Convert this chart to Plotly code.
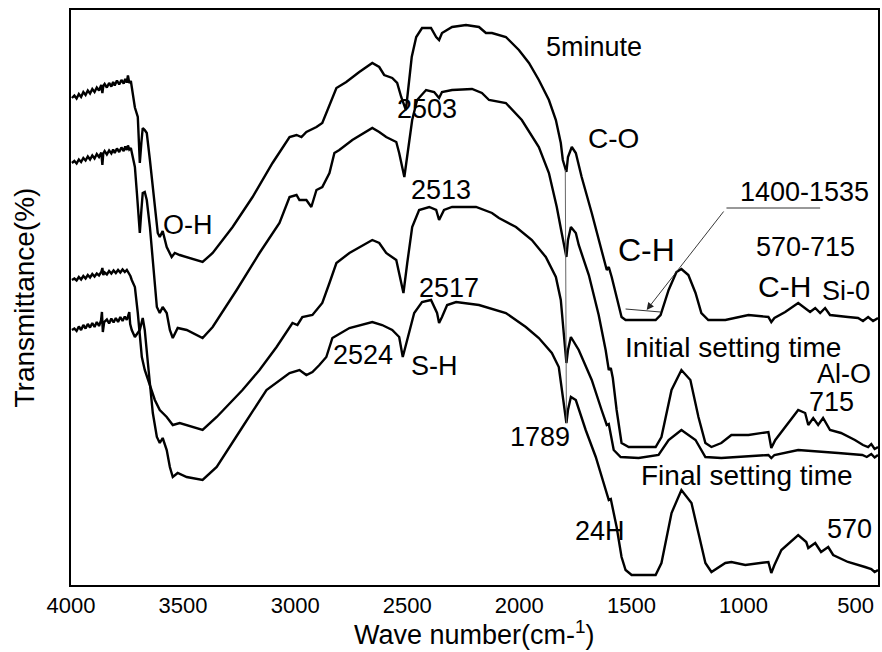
import plotly.graph_objects as go

# ---------------- data (wavenumber cm-1, transmittance a.u.) ----------------
five_minute = [
    (3996, 97.4), (3985, 97.9), (3975, 97.3), (3965, 98.2), (3955, 97.6), (3945, 98.6), (3935, 98.0),
    (3925, 98.9), (3915, 98.3), (3905, 99.2), (3895, 98.6), (3885, 99.5), (3875, 98.9), (3865, 100.0),
    (3860, 98.4), (3856, 99.8), (3850, 100.2), (3840, 99.5), (3830, 100.4), (3820, 99.7), (3812, 100.6),
    (3805, 99.9), (3795, 100.9), (3785, 100.1), (3775, 101.0), (3765, 100.3), (3758, 101.2), (3751, 100.5),
    (3746, 101.9), (3740, 100.4), (3733, 100.8), (3729, 99.4), (3724, 97.6), (3715, 95.5), (3702, 93.6),
    (3693, 84.4), (3686, 88.5), (3680, 91.4), (3671, 91.0), (3662, 90.4), (3648, 85.0), (3626, 75.6),
    (3613, 70.4), (3604, 69.6), (3591, 70.8), (3573, 67.6), (3551, 65.6), (3537, 66.4), (3515, 66.0),
    (3413, 64.6), (3368, 66.4), (3279, 71.6), (3190, 77.6), (3101, 84.4), (3025, 89.6), (2994, 90.0),
    (2972, 89.6), (2950, 90.6), (2905, 91.6), (2879, 92.4), (2861, 94.4), (2847, 95.6), (2816, 99.4),
    (2772, 100.6), (2714, 102.6), (2656, 104.4), (2625, 103.6), (2603, 102.0), (2567, 101.4), (2545, 100.4),
    (2527, 97.6), (2506, 95.0), (2495, 99.6), (2480, 105.6), (2460, 109.6), (2434, 111.4), (2394, 111.4),
    (2371, 109.6), (2358, 109.0), (2345, 110.4), (2300, 111.6), (2238, 112.0), (2180, 111.6), (2149, 110.4),
    (2122, 110.4), (2060, 109.6), (2002, 107.0), (1957, 104.4), (1913, 101.0), (1868, 97.0), (1837, 93.0),
    (1815, 88.4), (1806, 85.0), (1790, 82.6), (1783, 85.6), (1766, 87.6), (1748, 86.4), (1722, 81.6),
    (1677, 74.4), (1633, 67.0), (1610, 63.0), (1601, 63.6), (1588, 61.6), (1566, 57.6), (1544, 53.6),
    (1526, 53.0), (1392, 53.0), (1370, 54.0), (1334, 59.0), (1299, 62.6), (1277, 63.2), (1246, 62.0),
    (1214, 58.4), (1188, 54.4), (1157, 53.0), (1081, 53.0), (978, 54.0), (889, 53.6), (876, 52.6),
    (862, 53.4), (814, 54.6), (756, 56.4), (725, 55.4), (703, 54.6), (680, 55.4), (658, 54.4), (636, 55.4),
    (614, 54.0), (534, 53.6), (489, 53.4), (467, 52.8), (444, 53.6), (422, 52.8), (400, 53.4),
]

initial_setting = [
    (3996, 84.4), (3985, 84.8), (3975, 84.3), (3965, 85.1), (3955, 84.6), (3945, 85.4), (3935, 84.9),
    (3925, 85.7), (3915, 85.1), (3905, 85.9), (3895, 85.3), (3885, 86.2), (3875, 85.6), (3865, 86.5),
    (3860, 84.0), (3856, 86.3), (3850, 86.8), (3840, 86.1), (3830, 86.9), (3820, 86.3), (3812, 87.1),
    (3805, 86.4), (3795, 87.3), (3785, 86.6), (3775, 87.5), (3765, 86.8), (3758, 87.7), (3751, 87.0),
    (3746, 87.9), (3740, 87.1), (3733, 87.4), (3729, 86.4), (3724, 86.0), (3715, 83.6), (3706, 78.4),
    (3693, 70.4), (3686, 75.0), (3680, 78.4), (3671, 78.6), (3662, 77.0), (3648, 71.6), (3635, 64.4),
    (3617, 55.6), (3604, 54.4), (3591, 55.6), (3573, 54.4), (3559, 51.0), (3546, 49.4), (3524, 51.4),
    (3484, 51.0), (3413, 49.4), (3368, 51.6), (3261, 59.0), (3159, 66.4), (3070, 72.4), (3025, 77.6),
    (2994, 78.0), (2981, 77.0), (2950, 77.0), (2928, 75.6), (2905, 79.0), (2879, 79.6), (2847, 82.4),
    (2825, 86.4), (2803, 87.0), (2745, 89.0), (2656, 91.4), (2625, 90.6), (2594, 89.6), (2549, 88.6),
    (2536, 86.4), (2513, 81.6), (2500, 85.6), (2478, 93.0), (2456, 97.0), (2416, 99.0), (2380, 98.6),
    (2358, 97.4), (2345, 98.6), (2300, 99.0), (2211, 99.2), (2167, 98.4), (2135, 97.0), (2060, 96.4),
    (1989, 93.0), (1913, 87.6), (1868, 82.4), (1833, 75.6), (1811, 70.4), (1790, 65.6), (1783, 69.0),
    (1770, 71.6), (1748, 70.4), (1735, 68.0), (1690, 62.0), (1646, 54.0), (1615, 47.0), (1601, 43.0),
    (1592, 43.4), (1583, 41.4), (1566, 35.0), (1544, 28.4), (1512, 27.6), (1392, 27.6), (1366, 29.6),
    (1321, 39.0), (1277, 43.0), (1237, 41.0), (1201, 33.6), (1170, 28.4), (1143, 27.6), (1099, 28.4),
    (1054, 30.0), (978, 30.0), (889, 30.6), (876, 27.4), (858, 29.0), (800, 32.4), (756, 35.0),
    (725, 34.4), (711, 32.0), (689, 33.4), (667, 32.0), (645, 33.4), (614, 31.0), (565, 30.4),
    (503, 29.0), (467, 28.0), (444, 27.6), (430, 28.2), (415, 27.2), (400, 27.6),
]

final_setting = [
    (3996, 61.0), (3985, 61.3), (3975, 60.9), (3965, 61.6), (3955, 61.1), (3945, 61.8), (3935, 61.3),
    (3925, 62.0), (3915, 61.5), (3905, 62.2), (3895, 61.7), (3885, 62.3), (3875, 61.9), (3865, 62.6),
    (3860, 63.4), (3856, 62.0), (3850, 62.5), (3840, 62.1), (3830, 62.8), (3820, 62.3), (3810, 62.9),
    (3800, 62.4), (3790, 63.0), (3780, 62.5), (3770, 63.1), (3760, 62.6), (3751, 63.0), (3742, 62.3),
    (3735, 61.8), (3729, 61.0), (3715, 59.6), (3702, 54.4), (3684, 45.6), (3671, 43.0), (3657, 41.0),
    (3640, 39.0), (3626, 37.0), (3604, 35.0), (3591, 34.4), (3573, 33.6), (3546, 32.0), (3515, 32.4),
    (3413, 31.0), (3350, 33.6), (3235, 39.0), (3159, 43.0), (3083, 47.6), (3012, 52.4), (2990, 52.0),
    (2968, 53.6), (2923, 54.0), (2879, 56.4), (2847, 60.4), (2816, 64.4), (2758, 66.4), (2656, 69.0),
    (2625, 68.4), (2594, 66.4), (2549, 65.0), (2536, 62.4), (2517, 58.4), (2500, 64.4), (2478, 71.6),
    (2447, 75.0), (2402, 75.6), (2371, 75.0), (2358, 73.0), (2336, 75.0), (2300, 75.6), (2193, 75.6),
    (2122, 74.4), (2091, 73.4), (2015, 71.6), (1944, 69.0), (1882, 65.6), (1837, 61.6), (1815, 57.0),
    (1802, 50.4), (1790, 44.4), (1783, 47.0), (1770, 49.6), (1735, 47.0), (1677, 41.0), (1633, 35.0),
    (1610, 32.0), (1601, 32.2), (1592, 30.0), (1579, 27.0), (1548, 25.6), (1468, 25.4), (1379, 26.0),
    (1334, 29.0), (1277, 31.0), (1214, 29.0), (1170, 25.6), (1099, 25.4), (889, 26.0), (876, 25.4),
    (862, 26.0), (756, 27.0), (578, 26.4), (470, 26.0), (450, 25.6), (430, 26.2), (415, 25.5), (400, 26.0),
]

hours_24 = [
    (3996, 51.0), (3985, 51.3), (3975, 50.8), (3965, 51.7), (3955, 51.0), (3945, 52.0), (3935, 51.3),
    (3925, 52.2), (3915, 51.5), (3905, 52.4), (3895, 51.6), (3885, 52.6), (3875, 51.8), (3866, 52.9),
    (3862, 54.6), (3858, 50.6), (3852, 52.6), (3840, 53.1), (3830, 52.3), (3820, 53.3), (3810, 52.5),
    (3800, 53.4), (3790, 52.6), (3780, 53.6), (3770, 52.8), (3760, 53.7), (3751, 53.0), (3744, 53.8),
    (3740, 54.6), (3736, 52.2), (3729, 51.0), (3715, 49.6), (3700, 50.6), (3693, 51.0), (3680, 53.4),
    (3671, 51.0), (3657, 44.4), (3648, 40.4), (3635, 34.4), (3617, 29.6), (3604, 28.4), (3591, 29.4),
    (3573, 27.0), (3559, 23.6), (3546, 21.6), (3524, 22.4), (3484, 21.6), (3413, 21.0), (3350, 23.6),
    (3235, 31.6), (3128, 39.0), (3025, 42.4), (2981, 43.0), (2950, 42.0), (2923, 42.6), (2892, 44.0),
    (2861, 45.6), (2834, 49.4), (2758, 51.4), (2656, 52.6), (2612, 52.0), (2567, 51.0), (2536, 49.6),
    (2520, 45.6), (2491, 50.4), (2469, 54.4), (2434, 56.6), (2394, 57.0), (2367, 54.4), (2358, 52.4),
    (2345, 53.6), (2322, 56.0), (2282, 56.6), (2180, 56.0), (2060, 54.4), (1971, 51.6), (1913, 49.4),
    (1855, 46.4), (1824, 43.6), (1811, 39.0), (1790, 32.4), (1783, 35.0), (1770, 37.6), (1748, 37.0),
    (1704, 31.0), (1659, 25.6), (1615, 19.0), (1601, 17.0), (1592, 17.2), (1588, 16.4), (1566, 11.6),
    (1544, 5.6), (1526, 3.0), (1499, 2.0), (1392, 2.0), (1366, 4.4), (1321, 14.4), (1277, 19.0),
    (1232, 16.4), (1201, 10.4), (1170, 4.4), (1143, 2.6), (1081, 4.4), (1054, 4.6), (992, 4.0),
    (889, 4.6), (876, 2.4), (862, 4.0), (831, 7.0), (756, 10.0), (720, 8.6), (711, 7.4), (680, 8.4),
    (654, 6.6), (622, 7.6), (600, 6.0), (534, 4.6), (458, 3.6), (430, 3.2), (415, 2.6), (400, 3.0),
]

x_ticks = [4000, 3500, 3000, 2500, 2000, 1500, 1000, 500]

label_text = ["5minute", "2503", "2513", "2517", "2524", "S-H", "O-H", "C-O", "1400-1535",
              "C-H", "570-715", "C-H", "Si-0", "Initial setting time", "Al-O", "715", "1789",
              "Final setting time", "24H", "570"]
label_wn = [1668, 2411, 2349, 2313, 2696, 2380, 3479, 1579, 729,
            1432, 725, 818, 542, 1045, 551, 609, 1908,
            983, 1641, 529]
label_t = [107.6, 95.2, 79.0, 59.4, 46.0, 43.8, 72.0, 89.4, 78.6,
           67.0, 67.6, 59.8, 58.8, 47.6, 42.2, 36.6, 29.6,
           22.0, 10.8, 11.2]
label_size = [27, 27, 27, 27, 27, 27, 27, 28, 27,
              32, 27, 30, 27, 28, 27, 27, 27,
              28, 27, 27]

FONT = "Liberation Sans, Arial, sans-serif"

fig = go.Figure()
for name, pts in [("5minute", five_minute), ("Initial setting time", initial_setting),
                  ("Final setting time", final_setting), ("24H", hours_24)]:
    xs, ys = zip(*pts)
    fig.add_trace(go.Scatter(x=list(xs), y=list(ys), mode="lines", name=name,
                             line=dict(color="black", width=2.4), showlegend=False,
                             hoverinfo="skip"))

annotations = []
for t, xw, yt, sz in zip(label_text, label_wn, label_t, label_size):
    annotations.append(dict(x=xw, y=yt, xref="x", yref="y", text=t, showarrow=False,
                            xanchor="center", yanchor="middle",
                            font=dict(family=FONT, size=sz, color="black")))

# arrow for the 1400-1535 region
annotations.append(dict(x=1432, y=55.0, xref="x", yref="y", ax=1080, ay=75.2,
                        axref="x", ayref="y", text=" ", showarrow=True,
                        arrowhead=2, arrowsize=1.6, arrowwidth=0.9, arrowcolor="#222",
                        font=dict(size=2)))

# axis titles
annotations.append(dict(x=0.5, y=0, xref="paper", yref="paper", yshift=-48,
                        text="Wave number(cm-<sup>1</sup>)", showarrow=False,
                        xanchor="center", yanchor="middle",
                        font=dict(family=FONT, size=27, color="black")))
annotations.append(dict(x=0, y=0.5, xref="paper", yref="paper", xshift=-47,
                        text="Transmittance(%)", showarrow=False, textangle=-90,
                        xanchor="center", yanchor="middle",
                        font=dict(family=FONT, size=28, color="black")))

shapes = [
    dict(type="line", xref="x", yref="y", x0=1795, y0=83.0, x1=1790, y1=32.4,
         line=dict(color="#666", width=1)),
    dict(type="line", xref="x", yref="y", x0=1076, y0=75.4, x1=658, y1=75.4,
         line=dict(color="#333", width=1)),
    dict(type="line", xref="x", yref="y", x0=1526, y0=55.2, x1=1370, y1=54.6,
         line=dict(color="#333", width=1)),
]

fig.update_layout(
    width=882, height=652,
    margin=dict(l=71, r=2, t=10, b=67),
    paper_bgcolor="white", plot_bgcolor="white",
    annotations=annotations, shapes=shapes,
    font=dict(family=FONT, color="black"),
)
fig.update_xaxes(range=[4000, 400], tickvals=x_ticks, ticktext=[str(v) for v in x_ticks],
                 showgrid=False, zeroline=False, showline=True, linecolor="black",
                 linewidth=2, mirror=True, ticks="", ticklen=0,
                 tickfont=dict(family=FONT, size=22, color="black"))
fig.update_yaxes(range=[0, 115], showticklabels=False, showgrid=False, zeroline=False,
                 showline=True, linecolor="black", linewidth=2, mirror=True, ticks="")

fig.write_html("out.html")
